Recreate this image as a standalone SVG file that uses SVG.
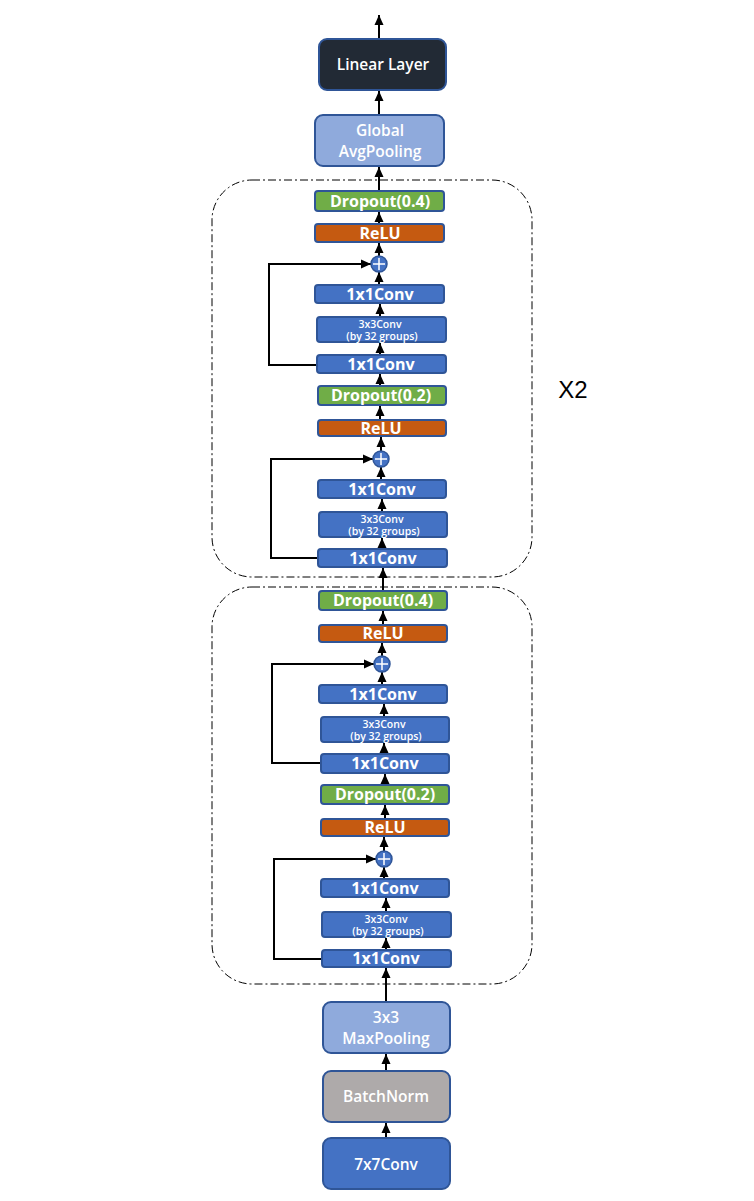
<svg xmlns="http://www.w3.org/2000/svg" width="754" height="1201" viewBox="0 0 754 1201">
<defs>
<marker id="ah" markerUnits="userSpaceOnUse" markerWidth="10" markerHeight="10" viewBox="0 0 10 10" refX="10" refY="5" orient="auto">
<path d="M0,0.5 L10,5 L0,9.5 Z" fill="#000"/>
</marker>
<style>
.b{stroke:#2f5597;stroke-width:2}
.conv{fill:#4472c4}
.drop{fill:#70ad47}
.relu{fill:#c55a11}
.lin{fill:#222a35}
.pool{fill:#8faadc}
.bn{fill:#aeaaaa}
text{font-family:"Open Sans","Noto Sans","Liberation Sans",sans-serif;fill:#fff;text-anchor:middle}
.t{font-size:16px;font-weight:bold}
.tl{font-size:15.5px;font-weight:600}
.ts{font-size:10.5px;font-weight:600}
.c{fill:none;stroke:#000;stroke-width:2;marker-end:url(#ah)}
.dash{fill:none;stroke:#000;stroke-width:1;stroke-dasharray:8 3 2 3}
.plus{fill:#4472c4;stroke:#2f5597;stroke-width:1.5}
.pc{stroke:#fff;stroke-width:1.5}
</style>
</defs>

<g id="groups">
<rect class="dash" x="212" y="180" width="320" height="397" rx="40"/>
<rect class="dash" x="212" y="587" width="320" height="397" rx="40"/>
<text x="573" y="398" style="font-family:'Liberation Sans',sans-serif;font-size:24px;fill:#000">X2</text>
</g>

<g id="connectors">
<path class="c" d="M379,39 V15"/>
<path class="c" d="M379,115 V91"/>
<path class="c" d="M379,191 V167"/>
<path class="c" d="M379,224 V212"/>
<path class="c" d="M379,256 V243"/>
<path class="c" d="M379,285 V272"/>
<path class="c" d="M380,317 V304"/>
<path class="c" d="M380,355 V343"/>
<path class="c" d="M317,365 H269 V264 H371"/>
<path class="c" d="M380,386 V374"/>
<path class="c" d="M380,420 V406"/>
<path class="c" d="M381,451 V437"/>
<path class="c" d="M381,480 V467"/>
<path class="c" d="M382,512 V499"/>
<path class="c" d="M382,549 V538"/>
<path class="c" d="M318,558 H271 V459 H373"/>
<path class="c" d="M383,591 V568"/>
<path class="c" d="M383,625 V611"/>
<path class="c" d="M382,656 V643"/>
<path class="c" d="M382,685 V672"/>
<path class="c" d="M384,717 V704"/>
<path class="c" d="M384,754 V743"/>
<path class="c" d="M321,763 H272 V664 H374"/>
<path class="c" d="M385,785 V774"/>
<path class="c" d="M385,819 V805"/>
<path class="c" d="M384,851 V837"/>
<path class="c" d="M384,879 V867"/>
<path class="c" d="M386,912 V898"/>
<path class="c" d="M386,950 V938"/>
<path class="c" d="M322,959 H274 V859 H376"/>
<path class="c" d="M386,1002 V968"/>
<path class="c" d="M386,1071 V1054"/>
<path class="c" d="M386,1138 V1123"/>
</g>

<g id="linear"><rect class="b lin" x="319" y="39" width="127" height="51" rx="8"/><text class="tl" x="383" y="70">Linear Layer</text></g>
<g id="gap"><rect class="b pool" x="315" y="115" width="129" height="51" rx="8"/><text class="tl" x="380" y="136">Global</text><text class="tl" x="380" y="157">AvgPooling</text></g>

<g id="drop04a"><rect class="b drop" x="315" y="191" width="129" height="20" rx="3"/><text class="t" x="380" y="206.5">Dropout(0.4)</text></g>
<g id="relu1"><rect class="b relu" x="315" y="224" width="129" height="18" rx="3"/><text class="t" x="380" y="238.5">ReLU</text></g>
<g id="add1"><circle class="plus" cx="379" cy="264" r="8"/><path class="pc" d="M373,264 H385 M379,258 V270"/></g>
<g id="c1a"><rect class="b conv" x="315" y="285" width="129" height="18" rx="3"/><text class="t" x="380" y="299.5">1x1Conv</text></g>
<g id="g1"><rect class="b conv" x="317" y="317" width="129" height="25" rx="3"/><text class="ts" x="380" y="328">3x3Conv</text><text class="ts" x="382" y="340">(by 32 groups)</text></g>
<g id="c1b"><rect class="b conv" x="317" y="355" width="129" height="18" rx="3"/><text class="t" x="381" y="369.5">1x1Conv</text></g>
<g id="drop02a"><rect class="b drop" x="318" y="386" width="128" height="19" rx="3"/><text class="t" x="381" y="401">Dropout(0.2)</text></g>
<g id="relu2"><rect class="b relu" x="318" y="420" width="128" height="16" rx="3"/><text class="t" x="381" y="433.5">ReLU</text></g>
<g id="add2"><circle class="plus" cx="381" cy="459" r="8"/><path class="pc" d="M375,459 H387 M381,453 V465"/></g>
<g id="c2a"><rect class="b conv" x="318" y="480" width="128" height="18" rx="3"/><text class="t" x="382" y="494.5">1x1Conv</text></g>
<g id="g2"><rect class="b conv" x="319" y="512" width="128" height="25" rx="3"/><text class="ts" x="382" y="523">3x3Conv</text><text class="ts" x="384" y="535">(by 32 groups)</text></g>
<g id="c2b"><rect class="b conv" x="318" y="549" width="129" height="18" rx="3"/><text class="t" x="383" y="563.5">1x1Conv</text></g>

<g id="drop04b"><rect class="b drop" x="319" y="591" width="128" height="19" rx="3"/><text class="t" x="383" y="606">Dropout(0.4)</text></g>
<g id="relu3"><rect class="b relu" x="319" y="625" width="128" height="17" rx="3"/><text class="t" x="383" y="638.5">ReLU</text></g>
<g id="add3"><circle class="plus" cx="382" cy="664" r="8"/><path class="pc" d="M376,664 H388 M382,658 V670"/></g>
<g id="c3a"><rect class="b conv" x="319" y="685" width="128" height="18" rx="3"/><text class="t" x="383" y="699.5">1x1Conv</text></g>
<g id="g3"><rect class="b conv" x="321" y="717" width="128" height="25" rx="3"/><text class="ts" x="384" y="728">3x3Conv</text><text class="ts" x="386" y="740">(by 32 groups)</text></g>
<g id="c3b"><rect class="b conv" x="321" y="754" width="128" height="19" rx="3"/><text class="t" x="385" y="769">1x1Conv</text></g>
<g id="drop02b"><rect class="b drop" x="321" y="785" width="128" height="19" rx="3"/><text class="t" x="385" y="800">Dropout(0.2)</text></g>
<g id="relu4"><rect class="b relu" x="321" y="819" width="128" height="17" rx="3"/><text class="t" x="385" y="832.5">ReLU</text></g>
<g id="add4"><circle class="plus" cx="384" cy="859" r="8"/><path class="pc" d="M378,859 H390 M384,853 V865"/></g>
<g id="c4a"><rect class="b conv" x="321" y="879" width="128" height="18" rx="3"/><text class="t" x="385" y="893.5">1x1Conv</text></g>
<g id="g4"><rect class="b conv" x="322" y="912" width="129" height="25" rx="3"/><text class="ts" x="386" y="923">3x3Conv</text><text class="ts" x="388" y="935">(by 32 groups)</text></g>
<g id="c4b"><rect class="b conv" x="322" y="950" width="129" height="17" rx="3"/><text class="t" x="386" y="964">1x1Conv</text></g>

<g id="maxpool"><rect class="b pool" x="323" y="1002" width="127" height="51" rx="8"/><text class="tl" x="386" y="1023">3x3</text><text class="tl" x="386" y="1044">MaxPooling</text></g>
<g id="bn"><rect class="b bn" x="323" y="1071" width="127" height="51" rx="8"/><text class="tl" x="386" y="1102">BatchNorm</text></g>
<g id="conv7"><rect class="b conv" x="323" y="1138" width="127" height="51" rx="8"/><text class="tl" x="386" y="1170">7x7Conv</text></g>
</svg>
